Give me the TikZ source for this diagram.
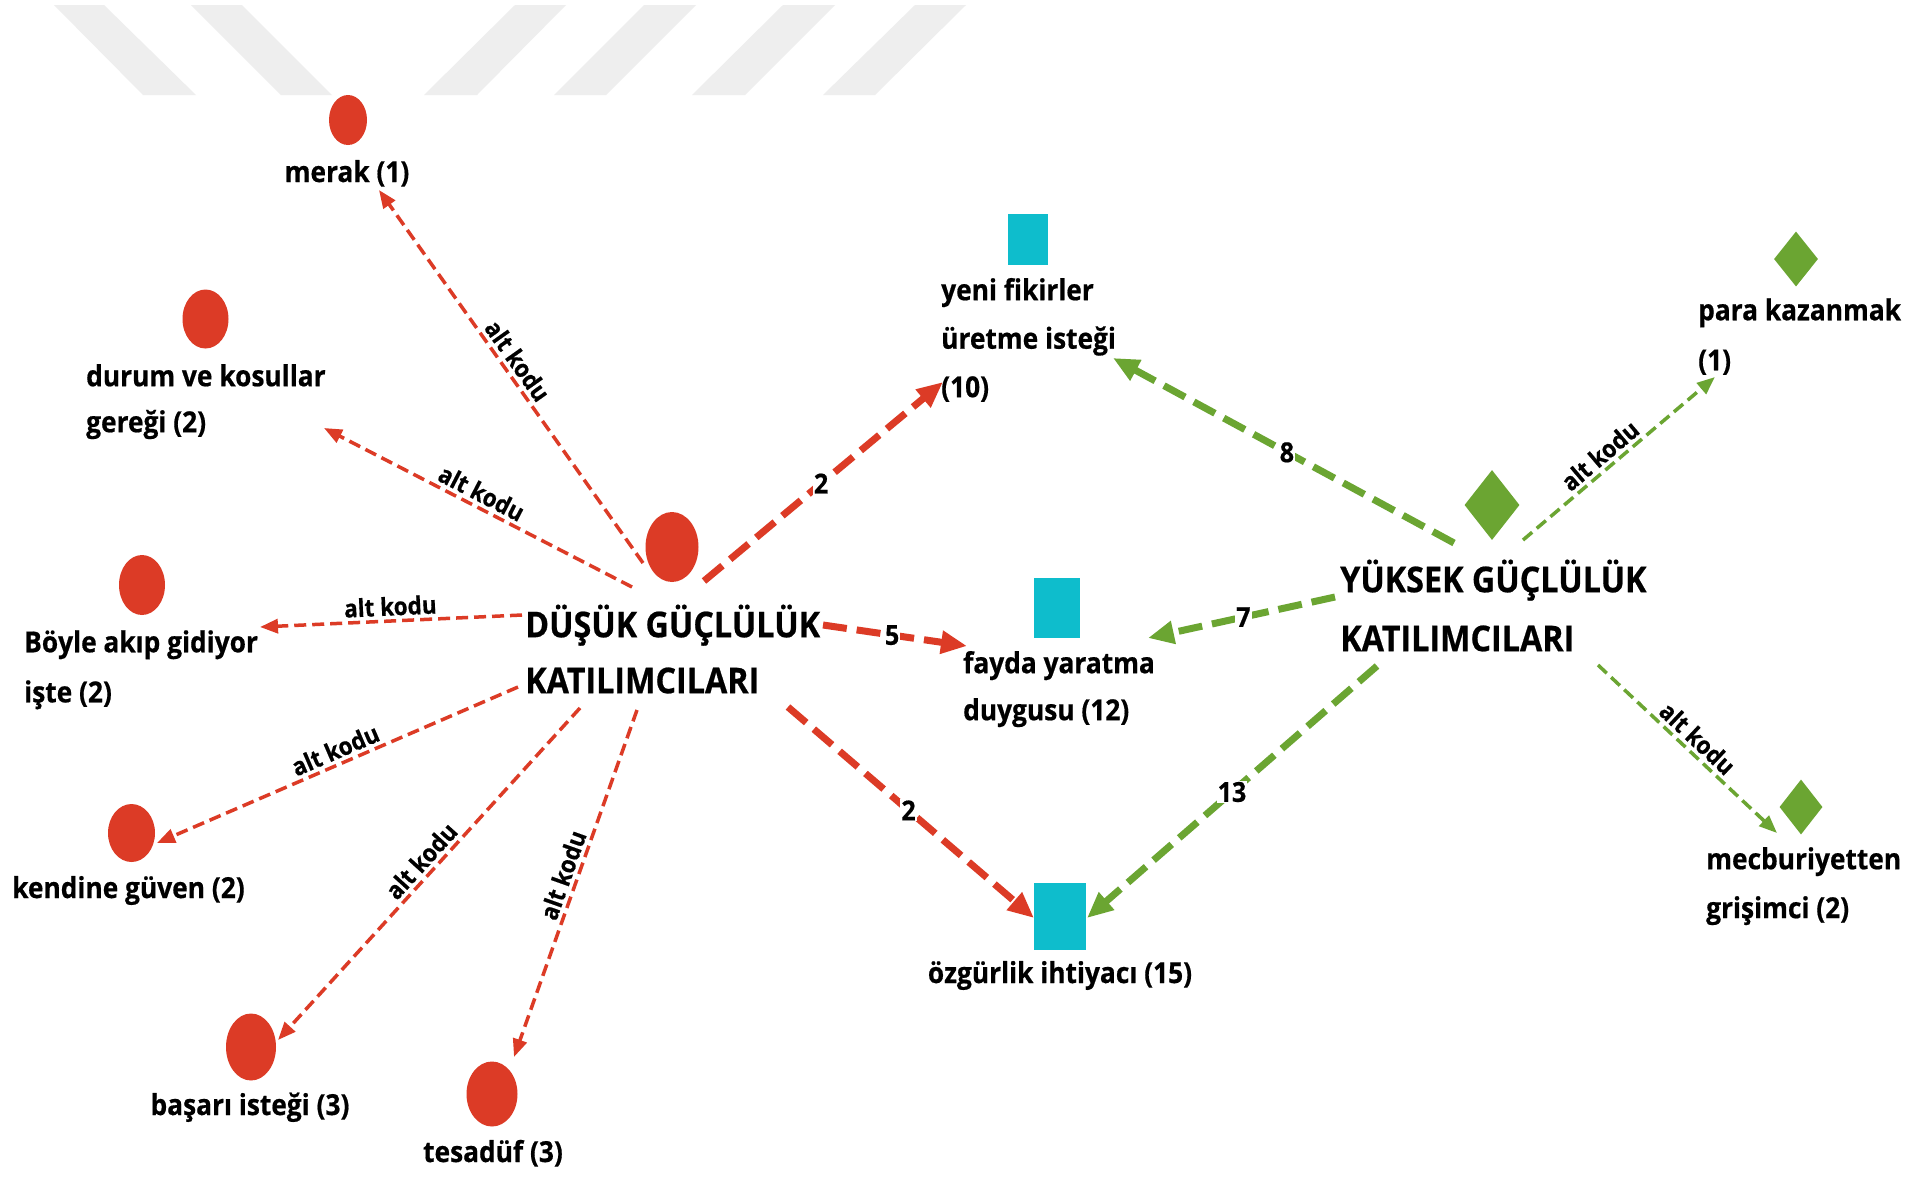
\documentclass[tikz,border=0pt]{standalone}
\usepackage{fontspec}
\setmainfont{Open Sans}[BoldFeatures={FakeBold=0.6}]
\usetikzlibrary{shapes.geometric,arrows.meta}
\definecolor{cred}{RGB}{220,59,38}
\definecolor{cgreen}{RGB}{107,165,50}
\definecolor{ccyan}{RGB}{14,189,204}
\definecolor{cstripe}{RGB}{238,238,238}
\newcommand\lf[2]{\fontsize{#1pt}{#2pt}\selectfont\bfseries}
\tikzset{
  redcirc/.style={ellipse, fill=cred, inner sep=0pt},
  cyanbox/.style={rectangle, fill=ccyan, inner sep=0pt},
  greendia/.style={diamond, fill=cgreen, inner sep=0pt},
  lbl/.style={align=left, inner sep=0pt, anchor=north west, text=black, yscale=1.1},
  lblc/.style={inner sep=0pt, anchor=base, text=black, yscale=1.1},
  subred/.style={draw=cred, line width=3.5pt, dash pattern=on 12pt off 6pt, -{Triangle[length=18pt,width=14pt]}},
  subgreen/.style={draw=cgreen, line width=3.5pt, dash pattern=on 12pt off 6pt, -{Triangle[length=18pt,width=14pt]}},
  wred/.style={draw=cred, line width=7pt, dash pattern=on 24pt off 10pt, -{Triangle[length=26pt,width=22pt]}},
  wgreen/.style={draw=cgreen, line width=7pt, dash pattern=on 24pt off 10pt, -{Triangle[length=26pt,width=22pt]}},
  altk/.style={sloped, above, font=\lf{22.5}{28}, text=black, inner sep=3pt, yscale=1.1},
  wlab/.style={font=\lf{25}{30}, text=black, fill=white, inner sep=1pt, yscale=1.1}
}
\begin{document}
\begin{tikzpicture}[x=1pt, y=-1pt]
\useasboundingbox (0,0) rectangle (1925,1176);
\fill[white] (0,0) rectangle (1925,1176);
% background stripes
\fill[cstripe] (54,5) -- (104,5) -- (196,95) -- (143,95) -- cycle;
\fill[cstripe] (191,5) -- (242,5) -- (332,95) -- (281,95) -- cycle;
\fill[cstripe] (515,5) -- (566,5) -- (477,95) -- (424,95) -- cycle;
\fill[cstripe] (644,5) -- (696,5) -- (606,95) -- (554,95) -- cycle;
\fill[cstripe] (783,5) -- (835,5) -- (745,95) -- (692,95) -- cycle;
\fill[cstripe] (915,5) -- (966,5) -- (875,95) -- (823,95) -- cycle;

% shapes
\node[redcirc, minimum width=38pt, minimum height=50pt] (c-merak) at (348,120) {};
\node[redcirc, minimum width=46pt, minimum height=59pt] (c-durum) at (205.5,319) {};
\node[redcirc, minimum width=46pt, minimum height=60pt] (c-boyle) at (142,585) {};
\node[redcirc, minimum width=47pt, minimum height=58pt] (c-kendine) at (131.5,833) {};
\node[redcirc, minimum width=50pt, minimum height=67pt] (c-basari) at (251,1047) {};
\node[redcirc, minimum width=51pt, minimum height=65pt] (c-tesaduf) at (492,1094) {};
\node[redcirc, minimum width=53pt, minimum height=70pt] (c-dusuk) at (672,547) {};
\node[cyanbox, minimum width=40pt, minimum height=51pt] (b-yeni) at (1028,239) {};
\node[cyanbox, minimum width=46pt, minimum height=60pt] (b-fayda) at (1057,608) {};
\node[cyanbox, minimum width=52pt, minimum height=67pt] (b-ozgur) at (1060,916) {};
\node[greendia, minimum width=55pt, minimum height=70pt] (d-yuksek) at (1492,505) {};
\node[greendia, minimum width=44pt, minimum height=55pt] (d-para) at (1796,259) {};
\node[greendia, minimum width=43pt, minimum height=55pt] (d-mecbur) at (1801,807) {};

% labels
\node[lblc, font=\lf{26.3}{42}] (merak) at (347,182) {merak (1)};
\node[lbl, font=\lf{26.3}{41.8}] (durum) at (86,353.8) {\strut durum ve kosullar\\\strut gereği (2)};
\node[lbl, font=\lf{26.3}{45.5}] (boyle) at (24,617) {\strut Böyle akıp gidiyor\\\strut işte (2)};
\node[inner sep=0pt, anchor=base west, text=black, yscale=1.1, font=\lf{26.3}{42}] (kendine) at (12,898) {kendine güven (2)};
\node[lblc, font=\lf{26.3}{42}] (basari) at (250,1115) {başarı isteği (3)};
\node[lblc, font=\lf{26.3}{42}] (tesaduf) at (493,1162) {tesadüf (3)};
\node[lbl, font=\lf{26.3}{44.1}] (yeni) at (941,266) {\strut yeni fikirler\\\strut üretme isteği\\\strut (10)};
\node[lbl, font=\lf{26.3}{42.7}] (fayda) at (963,640.1) {\strut fayda yaratma\\\strut duygusu (12)};
\node[lblc, font=\lf{26.3}{42}] (ozgur) at (1060,983) {özgürlik ihtiyacı (15)};
\node[lbl, font=\lf{26.3}{45.5}] (para) at (1698,285) {\strut para kazanmak\\\strut (1)};
\node[lbl, font=\lf{26.3}{44.5}] (mecbur) at (1706,834.7) {\strut mecburiyetten\\\strut grişimci (2)};
\node[lbl, font=\lf{32.3}{50.9}] (dusuk) at (525,597.8) {\strut DÜŞÜK GÜÇLÜLÜK\\\strut KATILIMCILARI};
\node[lbl, font=\lf{32.3}{53.6}] (yuksek) at (1340,550.7) {\strut YÜKSEK GÜÇLÜLÜK\\\strut KATILIMCILARI};

% connector ends
\coordinate (s1) at (643,563);  \coordinate (t1) at (379,190);
\coordinate (s2) at (632,587);  \coordinate (t2) at (324,428);
\coordinate (s3) at (522,615);  \coordinate (t3) at (260,627);
\coordinate (s4) at (518,687);  \coordinate (t4) at (157,843);
\coordinate (s5) at (580,708);  \coordinate (t5) at (278,1040);
\coordinate (s6) at (637,710);  \coordinate (t6) at (514,1057);
\coordinate (s7) at (704,581);  \coordinate (t7) at (943,382);
\coordinate (s8) at (823,625);  \coordinate (t8) at (967,646);
\coordinate (s9) at (788,707);  \coordinate (t9) at (1034,918);
\coordinate (s10) at (1454,543); \coordinate (t10) at (1113,358);
\coordinate (s11) at (1335,597); \coordinate (t11) at (1148,638);
\coordinate (s12) at (1377,666); \coordinate (t12) at (1087,918);
\coordinate (s13) at (1523,540); \coordinate (t13) at (1715,377);
\coordinate (s14) at (1598,665); \coordinate (t14) at (1777,833);

% connectors
\draw[subred] (s1) -- node[altk, pos=0.52] {alt kodu} (t1);
\draw[subred] (s2) -- node[altk, pos=0.51] {alt kodu} (t2);
\draw[subred] (s3) -- node[altk, pos=0.5] {alt kodu} (t3);
\draw[subred] (s4) -- node[altk, pos=0.49] {alt kodu} (t4);
\draw[subred] (s5) -- node[altk, pos=0.49] {alt kodu} (t5);
\draw[subred] (s6) -- node[altk, pos=0.49] {alt kodu} (t6);
\draw[wred] (s7) -- node[wlab, pos=0.49] {2} (t7);
\draw[wred] (s8) -- node[wlab, pos=0.48] {5} (t8);
\draw[wred] (s9) -- node[wlab, pos=0.49] {2} (t9);
\draw[wgreen] (s10) -- node[wlab, pos=0.49] {8} (t10);
\draw[wgreen] (s11) -- node[wlab, pos=0.49] {7} (t11);
\draw[wgreen] (s12) -- node[wlab, pos=0.5] {13} (t12);
\draw[subgreen] (s13) -- node[altk, pos=0.45] {alt kodu} (t13);
\draw[subgreen] (s14) -- node[altk, pos=0.5] {alt kodu} (t14);
\end{tikzpicture}
\end{document}
